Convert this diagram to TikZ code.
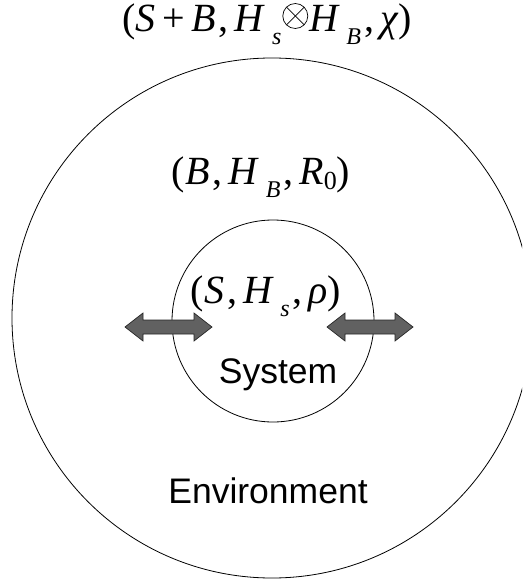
\documentclass[tikz,border=0pt]{standalone}
\usepackage{fontspec}
\setmainfont{Liberation Serif}
\newfontfamily\labelsans{Liberation Sans}
\newcommand{\mysubsc}[1]{\raisebox{-13pt}{\fontsize{24}{24}\selectfont\textit{#1}}}
\newcommand{\cm}{\hspace{3pt},\hspace{6pt}}
\newcommand{\myotimes}{\hspace{1pt}\tikz[x=1pt,y=1pt,baseline=-16pt,line width=0.7pt]{\draw (0,0) circle[radius=12.5];
  \draw (-8.84,-8.84) -- (8.84,8.84); \draw (-8.84,8.84) -- (8.84,-8.84);}\hspace{1pt}}
\begin{document}
\begin{tikzpicture}[x=1pt,y=-1pt,
  ring/.style={draw=black,line width=0.8pt},
  mathlabel/.style={font=\fontsize{40}{44}\selectfont,inner sep=0pt,anchor=base},
  sanslabel/.style={font=\labelsans\fontsize{35.5}{40}\selectfont,inner sep=0pt,anchor=base},
  dblarrow/.style={fill=black!62,draw=black!85,line width=0.7pt,line join=miter}]
\useasboundingbox (0,0) rectangle (522,585);
\clip (0,0) rectangle (522,585);
% circles
\draw[ring] (272,318) circle[radius=260];
\draw[ring] (273,321) circle[radius=101];
% labels
\node[mathlabel] (total) at (267,32) {(\textit{S}\,+\,\textit{B}\cm\textit{H}\,\mysubsc{s}\myotimes\textit{H}\,\mysubsc{B}\cm\textit{χ})};
\node[mathlabel] (bath) at (261,185) {(\textit{B}\cm\textit{H}\,\mysubsc{B}\cm\textit{R}\raisebox{-5pt}{\fontsize{26}{26}\selectfont 0})};
\node[mathlabel] (sys) at (266,303) {(\textit{S}\cm\textit{H}\,\mysubsc{s}\cm\textit{ρ})};
\node[sanslabel] (system) at (278,383) {System};
\node[sanslabel] (env) at (268,503) {Environment};
% double arrows
\draw[dblarrow] (125,327) -- (143,313) -- (143,320) -- (194,320) -- (194,313) -- (212,327)
  -- (194,341) -- (194,334) -- (143,334) -- (143,341) -- cycle;
\draw[dblarrow] (327,327) -- (345,313) -- (345,320) -- (395,320) -- (395,313) -- (413,327)
  -- (395,341) -- (395,334) -- (345,334) -- (345,341) -- cycle;
\end{tikzpicture}
\end{document}
